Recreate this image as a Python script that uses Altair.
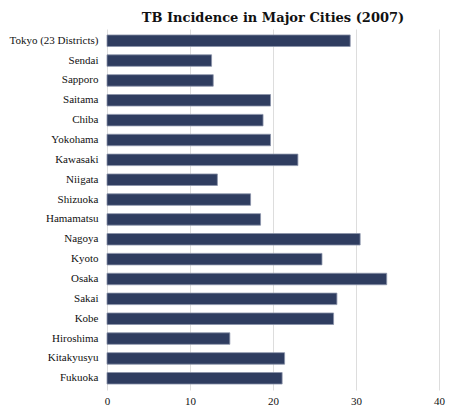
import altair as alt
import pandas as pd

cities = ["Tokyo (23 Districts)", "Sendai", "Sapporo", "Saitama", "Chiba", "Yokohama",
          "Kawasaki", "Niigata", "Shizuoka", "Hamamatsu", "Nagoya", "Kyoto", "Osaka",
          "Sakai", "Kobe", "Hiroshima", "Kitakyusyu", "Fukuoka"]
incidence = [29.3, 12.6, 12.8, 19.7, 18.8, 19.7, 23.0, 13.3, 17.3, 18.5, 30.5, 25.9,
             33.7, 27.7, 27.3, 14.8, 21.4, 21.1]
x_ticks = [0, 10, 20, 30, 40]

df = pd.DataFrame({"city": cities, "value": incidence})

chart = alt.Chart(df).mark_bar(
    color="#2f3d60", stroke="#8a93aa", strokeWidth=0.8
).encode(
    y=alt.Y("city:N", sort=cities, title=None,
            scale=alt.Scale(paddingInner=0.42, paddingOuter=0.3),
            axis=alt.Axis(ticks=False, domain=False, labelPadding=9,
                          labelFont="Liberation Serif", labelFontSize=11,
                          labelColor="#111")),
    x=alt.X("value:Q", title=None,
            scale=alt.Scale(domain=[0, 40]),
            axis=alt.Axis(values=x_ticks, ticks=False, domain=False, grid=True,
                          gridColor="#dddddd", labelPadding=5, labelFlush=False,
                          labelFont="Liberation Serif", labelFontSize=11,
                          labelColor="#111")),
).properties(
    width=332, height=361,
    title=alt.TitleParams("TB Incidence in Major Cities (2007)",
                          font="DejaVu Serif", fontSize=13, fontWeight="bold",
                          anchor="middle", offset=4, color="#111"),
    autosize=alt.AutoSizeParams(type="none"),
    padding={"left": 99, "top": 21, "right": 7, "bottom": 20},
).configure_view(stroke=None)

chart.save("out.html", embed_options={"renderer": "svg", "actions": False})
